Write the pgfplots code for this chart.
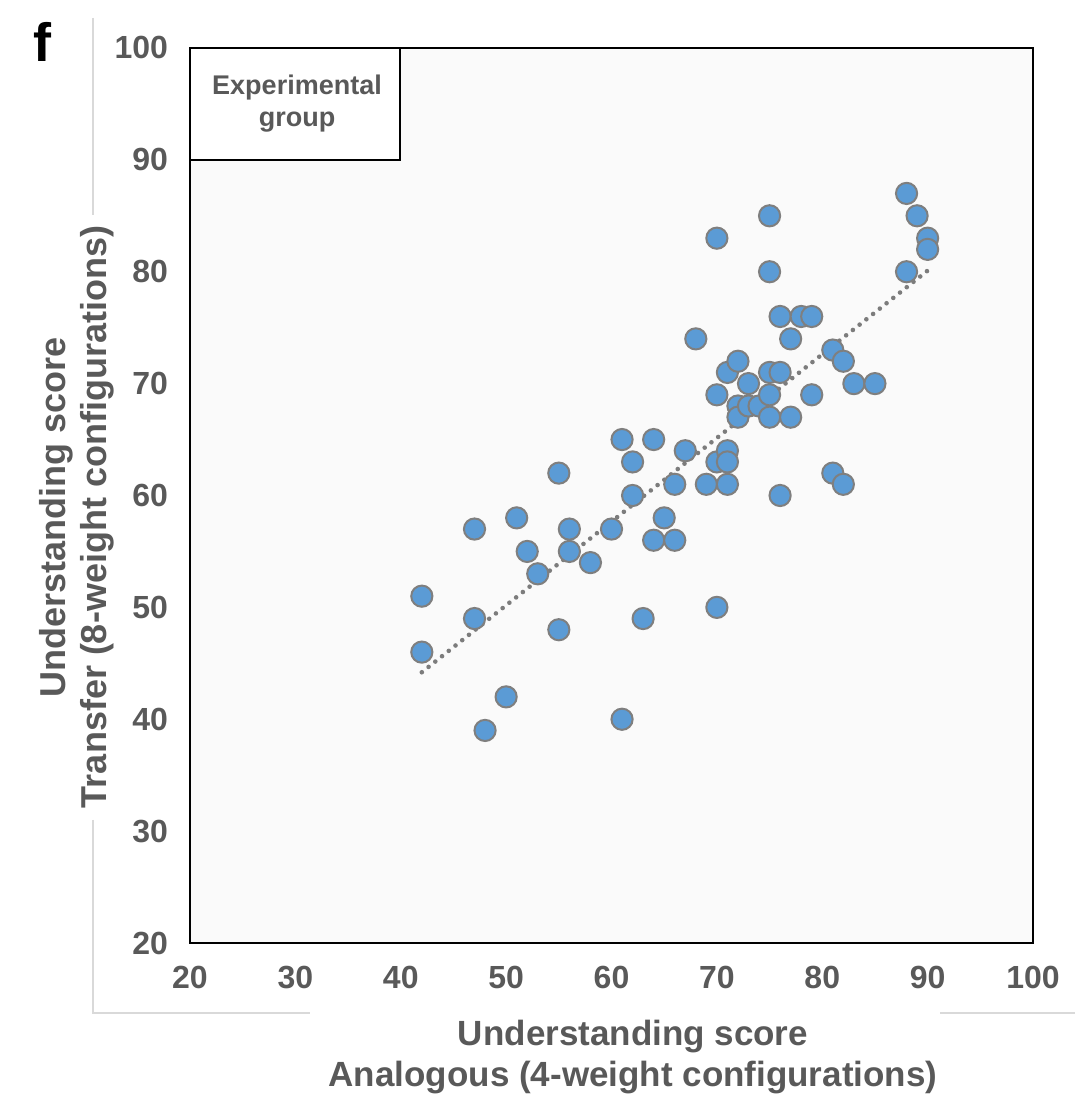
\documentclass[border=0pt]{standalone}
\usepackage{pgfplots}
\pgfplotsset{compat=1.18}
\usepackage{fontspec}
\setmainfont{Liberation Sans}
\definecolor{txt}{HTML}{595959}
\definecolor{dotfill}{HTML}{5B9BD5}
\definecolor{dotedge}{HTML}{7F7F7F}
\definecolor{frameg}{HTML}{D9D9D9}
\pgfplotstableread{
x y
42 51
42 46
47 57
47 49
48 39
50 42
51 58
52 55
53 53
55 62
55 48
56 57
56 55
58 54
60 57
61 65
61 40
62 63
62 60
63 49
64 65
64 56
65 58
66 61
66 56
67 64
68 74
69 61
70 83
70 69
70 63
70 50
71 71
71 64
71 63
71 61
72 72
72 68
72 67
73 70
73 68
74 68
75 85
75 80
75 71
75 69
75 67
76 76
76 71
76 60
77 74
77 67
78 76
79 76
79 69
81 73
81 62
82 72
82 61
83 70
85 70
88 87
88 80
89 85
90 83
90 82
}\scores
\begin{document}
\begin{tikzpicture}[x=1bp,y=1bp]
\path[use as bounding box] (0,0) rectangle (537.5,552);
\draw[frameg, line width=0.7bp] (46.5,543) -- (46.5,444.5);
\draw[frameg, line width=0.7bp] (46.5,142) -- (46.5,45.5) -- (155,45.5);
\draw[frameg, line width=0.7bp] (470,45.5) -- (537.5,45.5);
\begin{axis}[
  at={(95bp,80.5bp)}, anchor=south west,
  scale only axis, width=421.5bp, height=447.5bp,
  xmin=20, xmax=100, ymin=20, ymax=100,
  xtick={20,30,...,100}, ytick={20,30,...,100},
  major tick length=0pt,
  axis line style={black, line width=1bp},
  axis background/.style={fill=black!2},
  tick label style={font=\fontsize{16bp}{18bp}\selectfont\bfseries, text=txt},
  /pgf/number format/assume math mode=true,
  yticklabel style={xshift=-7.5bp},
  xticklabel style={yshift=-8bp},
  clip=false,
]
\addplot[only marks, mark=*, mark size=5.3bp,
  mark options={fill=dotfill, draw=dotedge, line width=1bp}] table[x=x,y=y] {\scores};
\addplot[no marks, draw=black!60, opacity=0.85, line width=2.3bp, line cap=round,
  dash pattern=on 0bp off 4.3bp] coordinates {(42,44.2) (90,80.1)};
\end{axis}
\draw[black, line width=1.2bp, fill=white] (95,528) rectangle (200,472);
\node[font=\fontsize{13.5bp}{16bp}\selectfont\bfseries, text=txt, align=center] at (148.5,500) {Experimental\\group};
\node[font=\fontsize{27bp}{30bp}\selectfont\bfseries] at (21,531) {f};
\node[font=\fontsize{18bp}{20.5bp}\selectfont\bfseries, text=txt, align=center, rotate=90] at (38.5,293.5) {Understanding score\\Transfer (8-weight configurations)};
\node[font=\fontsize{17.5bp}{20.5bp}\selectfont\bfseries, text=txt, align=center] at (316.5,23.5) {Understanding score\\Analogous (4-weight configurations)};
\end{tikzpicture}
\end{document}
